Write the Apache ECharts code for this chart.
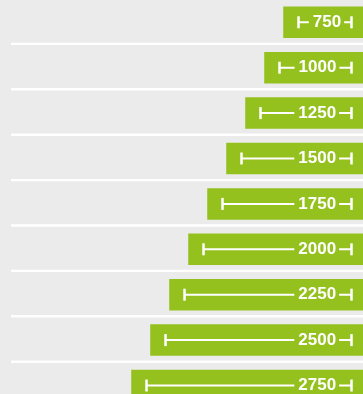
<!DOCTYPE html>
<html><head><meta charset="utf-8">
<script src="https://cdn.jsdelivr.net/npm/echarts@6/dist/echarts.min.js"></script>
<style>html,body{margin:0;padding:0;background:#ebebeb}#c{width:363px;height:394px}</style>
</head><body><div id="c"></div>
<script>
const categories = ['750', '1000', '1250', '1500', '1750', '2000', '2250', '2500', '2750'];
const values = [750, 1000, 1250, 1500, 1750, 2000, 2250, 2500, 2750];
const labels = ['750', '1000', '1250', '1500', '1750', '2000', '2250', '2500', '2750'];

const GREEN = '#95c11f';
const X_MIN = -300, X_MAX = 4332;

const chart = echarts.init(document.getElementById('c'), null, {renderer: 'canvas'});

function renderItem(params, api) {
  const i = params.dataIndex;
  const v = api.value(0);
  const c = api.coord([v, i]);
  const rightPt = api.coord([X_MIN, i]);
  const leftPt = api.coord([X_MAX, i]);
  const band = api.size([0, 1])[1];
  const barH = band * 0.694;
  const left = c[0], right = rightPt[0], cy = c[1];
  const tL = left + 15.3, tR = right - 11.5;
  const tc = Math.max((tL + tR) / 2 + 1.5, right - 46.3);
  const sepY = cy + band * 0.476;
  return {
    type: 'group',
    children: [
      {type: 'line', shape: {x1: leftPt[0], y1: sepY, x2: right, y2: sepY}, style: {stroke: '#ffffff', lineWidth: 2.4}},
      {type: 'rect', shape: {x: left, y: cy - barH / 2, width: right - left, height: barH}, style: {fill: GREEN}},
      {type: 'line', shape: {x1: tL, y1: cy, x2: tR, y2: cy}, style: {stroke: '#ffffff', lineWidth: 2}},
      {type: 'line', shape: {x1: tL, y1: cy - 6, x2: tL, y2: cy + 6}, style: {stroke: '#ffffff', lineWidth: 2.5}},
      {type: 'line', shape: {x1: tR, y1: cy - 6, x2: tR, y2: cy + 6}, style: {stroke: '#ffffff', lineWidth: 2.5}},
      {type: 'text', x: tc, y: cy, style: {
        text: labels[i], fill: '#ffffff', font: 'bold 17px "Liberation Sans", Arial, sans-serif',
        align: 'center', verticalAlign: 'middle', backgroundColor: GREEN, padding: [0, 3, 0, 4]
      }}
    ]
  };
}

chart.setOption({
  backgroundColor: '#ebebeb',
  animation: false,
  grid: {left: 11, right: 0, top: -0.4, height: 408.6, outerBoundsMode: 'none', containLabel: false},
  xAxis: {type: 'value', inverse: true, min: X_MIN, max: X_MAX, show: false},
  yAxis: {type: 'category', inverse: true, data: categories, show: false},
  series: [{
    type: 'custom',
    renderItem: renderItem,
    encode: {x: 0, y: 1},
    data: values.map((v, i) => [v, i]),
    clip: false
  }]
});
</script>
</body></html>
